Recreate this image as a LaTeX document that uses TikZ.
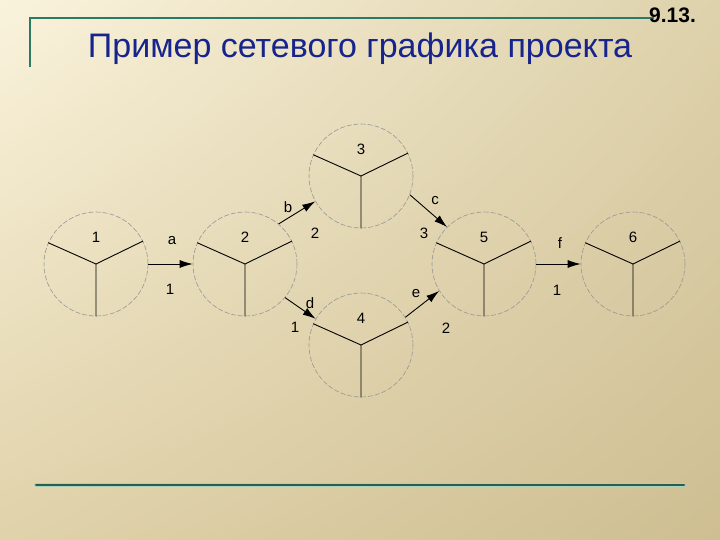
\documentclass[tikz,border=0pt]{standalone}
\usepackage{fontspec}
\setmainfont{Liberation Sans}
\usetikzlibrary{arrows.meta,shadings}
\definecolor{bgUL}{RGB}{250,243,220}
\definecolor{bgUR}{RGB}{222,210,172}
\definecolor{bgLL}{RGB}{224,210,170}
\definecolor{bgLR}{RGB}{206,190,146}
\definecolor{tealline}{RGB}{42,122,102}
\definecolor{tealdark}{RGB}{40,95,80}
\definecolor{tealglow}{RGB}{170,212,185}
\definecolor{titleblue}{RGB}{22,36,140}
\definecolor{circgray}{RGB}{150,150,150}
\begin{document}
\begin{tikzpicture}[x=1pt,y=-1pt,
  circ/.style={circle, draw=circgray, dash pattern=on 5pt off 2pt, line width=0.6pt, minimum size=104pt, inner sep=0pt},
  ylines/.style={black, line width=0.9pt},
  arr/.style={-{Latex[length=13pt,width=8pt]}, line width=0.9pt, black},
  lbl/.style={font=\fontsize{15}{17}\selectfont, inner sep=0pt},
  topline/.style={tealline, line width=2pt},
  glowline/.style={tealglow, line width=4pt, line cap=round},
  darkline/.style={tealdark, line width=2pt, line cap=round}]
\useasboundingbox (0,0) rectangle (720,540);
\shade[upper left=bgUL, upper right=bgUR, lower left=bgLL, lower right=bgLR] (0,0) rectangle (720,540);
% title frame
\coordinate (tl) at (30,67);
\coordinate (tc) at (30,18);
\coordinate (tr) at (654,18);
\draw[topline] (tl) -- (tc) -- (tr);
\node (num) [font=\bfseries\fontsize{21}{23}\selectfont, anchor=base west, inner sep=0pt] at (649,23) {9.13.};
\node (title) [font=\fontsize{34}{38}\selectfont, text=titleblue, anchor=base, inner sep=0pt] at (360,58) {Пример сетевого графика проекта};
% bottom line
\coordinate (bl) at (36,485);
\coordinate (br) at (684,485);
\draw[glowline] (bl) -- (br);
\draw[darkline] (bl) -- (br);
% events
\foreach \n/\x/\y in {1/96/264, 2/245/264, 3/361/176, 4/361/345, 5/484/264, 6/633/264} {
  \node[circ] (c\n) at (\x,\y) {};
  \draw[ylines] (c\n.156) -- (c\n.center) -- (c\n.26) (c\n.center) -- (c\n.270);
  \node[lbl] (t\n) at (\x,\y-27) {\n};
}
% activities
\draw[arr] (c1.0) -- (c2.180);
\draw[arr] (c2.50) -- (c3.209);
\draw[arr] (c3.339) -- (c5.135);
\draw[arr] (c2.320) -- (c4.150);
\draw[arr] (c4.32) -- (c5.211);
\draw[arr] (c5.0) -- (c6.180);
% labels
\node[lbl] (la) at (172,241) {a};
\node[lbl] (da) at (170,289) {1};
\node[lbl] (lb) at (288,207) {b};
\node[lbl] (db) at (315,233) {2};
\node[lbl] (lc) at (435,201) {c};
\node[lbl] (dc) at (424,233) {3};
\node[lbl] (ld) at (310,303) {d};
\node[lbl] (dd) at (295,327) {1};
\node[lbl] (le) at (416,294) {e};
\node[lbl] (de) at (446,328) {2};
\node[lbl] (lf) at (560,243) {f};
\node[lbl] (df) at (557,290) {1};
\end{tikzpicture}
\end{document}
